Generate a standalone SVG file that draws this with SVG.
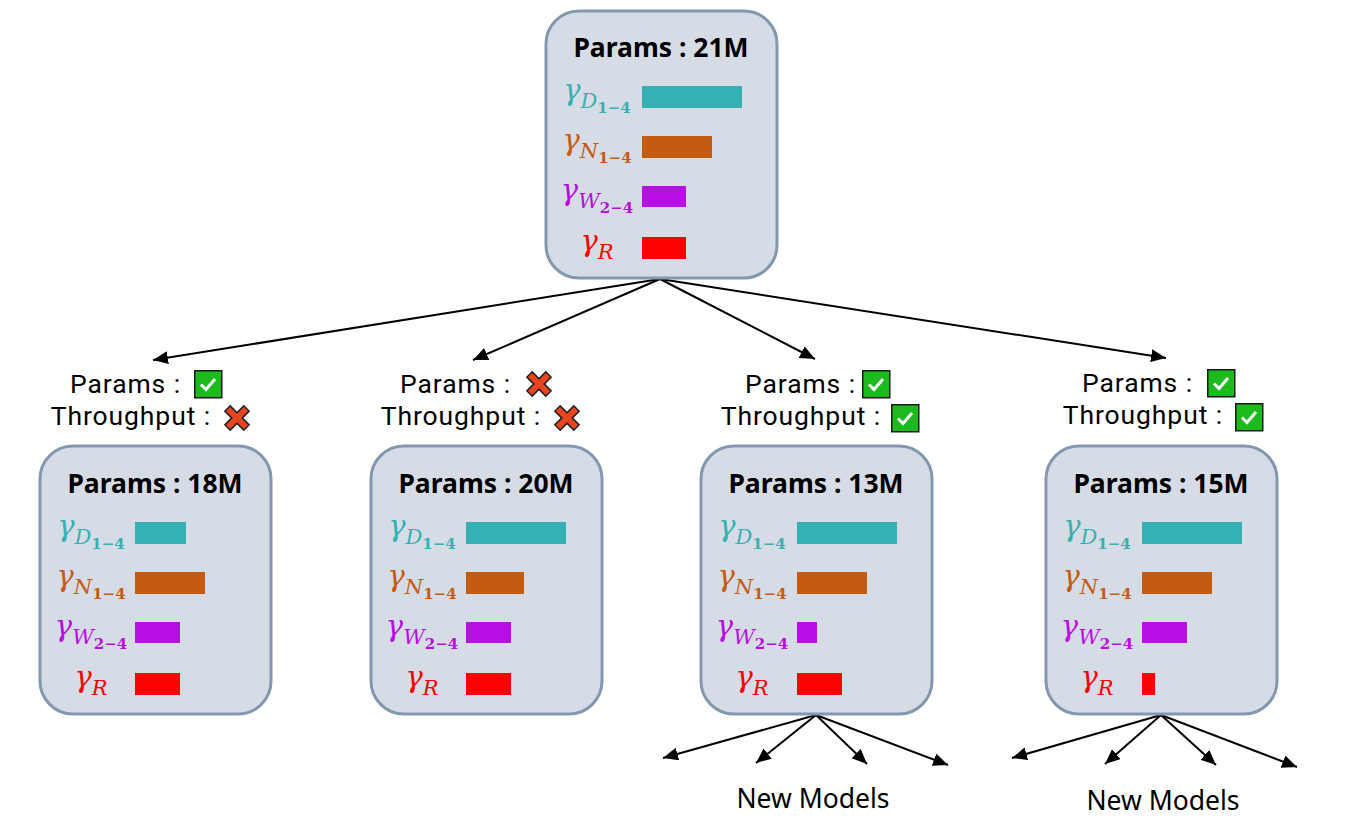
<svg xmlns="http://www.w3.org/2000/svg" width="1350" height="828" viewBox="0 0 1350 828">
<style>
.node{fill:#D6DCE5;stroke:#8497B0;stroke-width:3}
.title{font-family:"Noto Sans","Open Sans",sans-serif;font-weight:bold;font-size:26.5px;fill:#000;text-anchor:middle}
.cond{font-family:Roboto,"Noto Sans",sans-serif;font-size:26.5px;letter-spacing:0.9px;fill:#000;text-anchor:end}
.nm{font-family:"Noto Sans","Open Sans",sans-serif;font-size:26.5px;fill:#000;text-anchor:middle}
.lab{font-family:"DejaVu Serif","Liberation Serif",serif;text-anchor:middle}
.g{font-style:italic;font-size:29px}
.s{font-style:italic;font-size:21px}
.ss{font-family:"DejaVu Serif",serif;font-weight:bold;font-size:15px;font-style:normal}
.cD{fill:#36B1B3}.cN{fill:#C55A11}.cW{fill:#B80DE3}.cR{fill:#FF0000}
.conn line{stroke:#000;stroke-width:2;marker-end:url(#ah)}
</style>
<defs>
<marker id="ah" markerUnits="userSpaceOnUse" markerWidth="18" markerHeight="16" refX="15" refY="6.5" orient="auto" viewBox="0 0 18 16">
<path d="M0,0 L15,6.5 L0,13 z" fill="#000"/>
</marker>
<g id="chk">
<rect x="0.75" y="0.75" width="27" height="27" fill="#1DBA1D" stroke="#1a1a1a" stroke-width="1.5"/>
<polyline points="7,14.5 12,19.5 21,9" fill="none" stroke="#fff" stroke-width="3"/>
</g>
<g id="xm">
<line x1="4" y1="4" x2="24" y2="24" stroke="#222" stroke-width="9"/>
<line x1="24" y1="4" x2="4" y2="24" stroke="#222" stroke-width="9"/>
<line x1="5" y1="5" x2="23" y2="23" stroke="#E8441E" stroke-width="6"/>
<line x1="23" y1="5" x2="5" y2="23" stroke="#E8441E" stroke-width="6"/>
</g>
<g id="labels">
<text class="lab cD" x="52" y="90"><tspan class="g">γ</tspan><tspan class="s" dy="8">D</tspan><tspan class="ss" dy="5">1−4</tspan></text>
<text class="lab cN" x="52" y="140"><tspan class="g">γ</tspan><tspan class="s" dy="8">N</tspan><tspan class="ss" dy="5">1−4</tspan></text>
<text class="lab cW" x="52" y="190"><tspan class="g">γ</tspan><tspan class="s" dy="8">W</tspan><tspan class="ss" dy="5">2−4</tspan></text>
<text class="lab cR" x="52" y="241"><tspan class="g">γ</tspan><tspan class="s" dy="8">R</tspan></text>
</g>
</defs>

<g class="conn" id="connectors">
<line x1="660" y1="279" x2="153" y2="360"/>
<line x1="660" y1="279" x2="473" y2="360"/>
<line x1="660" y1="279" x2="815" y2="359"/>
<line x1="660" y1="279" x2="1166" y2="358"/>
<line x1="816" y1="715" x2="663" y2="758"/>
<line x1="816" y1="715" x2="756" y2="763"/>
<line x1="816" y1="715" x2="867" y2="764"/>
<line x1="816" y1="715" x2="948" y2="765"/>
<line x1="1161" y1="715" x2="1012" y2="758"/>
<line x1="1161" y1="715" x2="1105" y2="764"/>
<line x1="1161" y1="715" x2="1216" y2="765"/>
<line x1="1161" y1="715" x2="1297" y2="767"/>
</g>

<g id="node-top">
<rect class="node" x="546" y="11" width="231" height="267" rx="33"/>
<text class="title" x="661" y="57">Params : 21M</text>
<use href="#labels" x="545" y="10"/>
<rect class="cD" x="642" y="86" width="100" height="22"/>
<rect class="cN" x="642" y="136" width="70" height="22"/>
<rect class="cW" x="642" y="186" width="44" height="21"/>
<rect class="cR" x="642" y="237" width="44" height="22"/>
</g>

<g id="node-18M">
<text class="cond" x="181" y="393">Params :</text>
<use href="#chk" x="194" y="370"/>
<text class="cond" x="211" y="425">Throughput :</text>
<use href="#xm" x="223" y="404"/>
<rect class="node" x="40" y="446" width="231" height="268" rx="33"/>
<text class="title" x="155" y="493">Params : 18M</text>
<use href="#labels" x="39" y="446"/>
<rect class="cD" x="135" y="522" width="51" height="22"/>
<rect class="cN" x="135" y="572" width="70" height="22"/>
<rect class="cW" x="135" y="622" width="45" height="21"/>
<rect class="cR" x="135" y="673" width="45" height="22"/>
</g>

<g id="node-20M">
<text class="cond" x="511" y="393">Params :</text>
<use href="#xm" x="525" y="370"/>
<text class="cond" x="541" y="425">Throughput :</text>
<use href="#xm" x="553" y="404"/>
<rect class="node" x="371" y="446" width="231" height="268" rx="33"/>
<text class="title" x="486" y="493">Params : 20M</text>
<use href="#labels" x="370" y="446"/>
<rect class="cD" x="466" y="522" width="100" height="22"/>
<rect class="cN" x="466" y="572" width="58" height="22"/>
<rect class="cW" x="466" y="622" width="45" height="21"/>
<rect class="cR" x="466" y="673" width="45" height="22"/>
</g>

<g id="node-13M">
<text class="cond" x="856" y="393">Params :</text>
<use href="#chk" x="862" y="370"/>
<text class="cond" x="881" y="425">Throughput :</text>
<use href="#chk" x="891" y="404"/>
<rect class="node" x="701" y="446" width="231" height="268" rx="33"/>
<text class="title" x="816" y="493">Params : 13M</text>
<use href="#labels" x="700" y="446"/>
<rect class="cD" x="797" y="522" width="100" height="22"/>
<rect class="cN" x="797" y="572" width="70" height="22"/>
<rect class="cW" x="797" y="622" width="20" height="21"/>
<rect class="cR" x="797" y="673" width="45" height="22"/>
<text class="nm" x="813" y="808">New Models</text>
</g>

<g id="node-15M">
<text class="cond" x="1193" y="392">Params :</text>
<use href="#chk" x="1207" y="369"/>
<text class="cond" x="1223" y="424">Throughput :</text>
<use href="#chk" x="1235" y="403"/>
<rect class="node" x="1046" y="446" width="231" height="268" rx="33"/>
<text class="title" x="1161" y="493">Params : 15M</text>
<use href="#labels" x="1045" y="446"/>
<rect class="cD" x="1142" y="522" width="100" height="22"/>
<rect class="cN" x="1142" y="572" width="70" height="22"/>
<rect class="cW" x="1142" y="622" width="45" height="21"/>
<rect class="cR" x="1142" y="673" width="13" height="22"/>
<text class="nm" x="1163" y="810">New Models</text>
</g>
</svg>
